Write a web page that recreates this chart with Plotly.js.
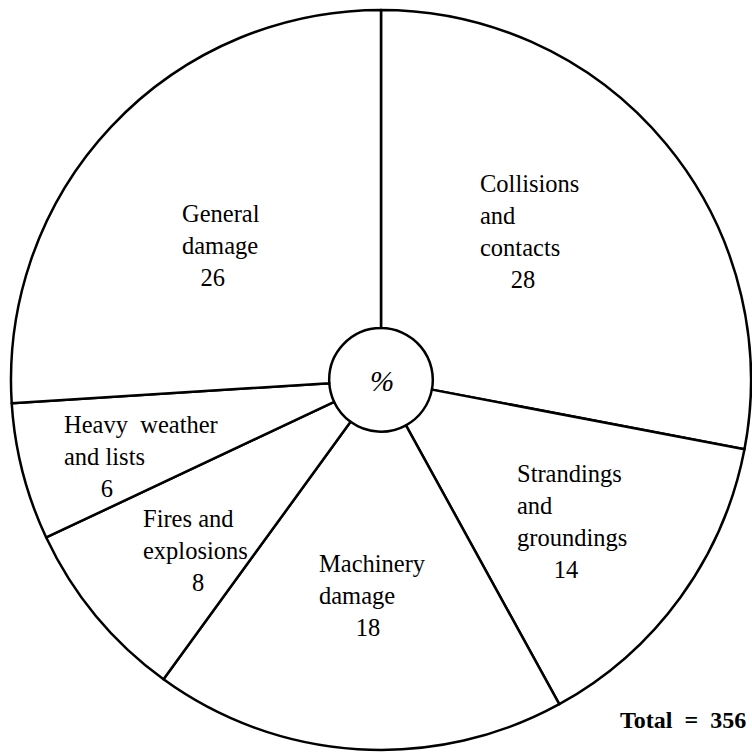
<!DOCTYPE html>
<html>
<head>
<meta charset="utf-8">
<script src="https://cdn.plot.ly/plotly-3.0.1.min.js"></script>
<style>html,body{margin:0;padding:0;background:#fff;}#chart{width:752px;height:755px;}</style>
</head>
<body>
<div id="chart"></div>
<script>
const categories = ["Collisions<br>and<br>contacts", "Strandings<br>and<br>groundings", "Machinery<br>damage", "Fires and<br>explosions", "Heavy weather<br>and lists", "General<br>damage"];
const percentages = [28, 14, 18, 8, 6, 26];
const totalCount = 356;

// label placement (layout only): left edge px, block centre px, number indent (nbsp count)
const labelLeft = [478, 515, 317, 141, 62, 180];
const labelMid = [231, 521, 595, 550, 456, 246];
const numIndent = [5, 6, 6, 8, 6, 3];

const W = 752, H = 755;
const FONT = "Liberation Serif, Times New Roman, serif";

const trace = {
  type: "pie",
  values: percentages,
  labels: categories,
  textinfo: "none",
  hoverinfo: "none",
  sort: false,
  direction: "clockwise",
  rotation: 0,
  hole: 0.14,
  marker: { colors: Array(percentages.length).fill("#ffffff"), line: { color: "#000000", width: 2.5 } },
  showlegend: false,
  domain: { x: [0.0146, 0.9987], y: [0.0066, 0.987] }
};

const labelAnns = categories.map((c, i) => ({
  text: c.replace("Heavy weather", "Heavy&nbsp; weather") + "<br>" + "&nbsp;".repeat(numIndent[i]) + percentages[i],
  x: labelLeft[i] / W, y: 1 - labelMid[i] / H,
  xref: "paper", yref: "paper", xanchor: "left", yanchor: "middle", align: "left",
  showarrow: false,
  font: { family: FONT, size: 24.5, color: "#000" }
}));

const layout = {
  width: W, height: H,
  margin: { l: 0, r: 0, t: 0, b: 0 },
  paper_bgcolor: "#fff",
  showlegend: false,
  annotations: labelAnns.concat([
    { text: "<i>%</i>", x: 382 / W, y: 1 - 381 / H, xref: "paper", yref: "paper", showarrow: false,
      font: { family: FONT, size: 29, color: "#000" } },
    { text: "<b>Total&nbsp; =&nbsp; " + totalCount + "</b>", x: 748 / W, y: 1 - 720 / H, xref: "paper", yref: "paper",
      xanchor: "right", yanchor: "middle", showarrow: false,
      font: { family: FONT, size: 24, color: "#000" } }
  ])
};

Plotly.newPlot("chart", [trace], layout, { staticPlot: true });
</script>
</body>
</html>
